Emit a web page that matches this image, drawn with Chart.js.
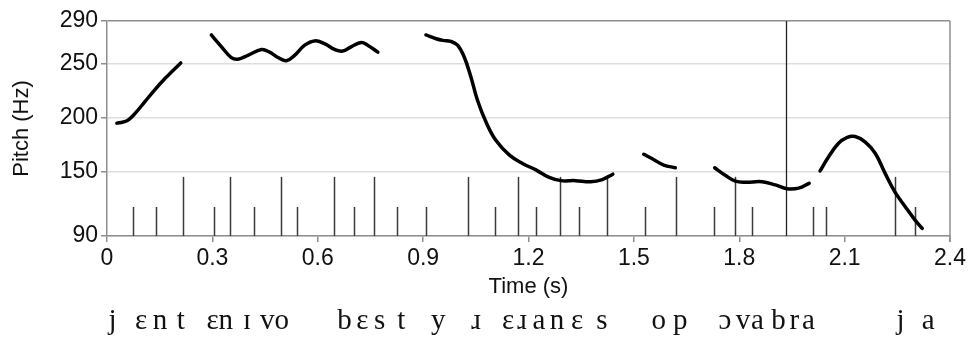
<!DOCTYPE html>
<html>
<head>
<meta charset="utf-8">
<title>Pitch contour</title>
<script src="https://cdn.jsdelivr.net/npm/chart.js@4.4.1/dist/chart.umd.min.js"></script>
<style>
  body { margin: 0; background: #fff; }
  #wrap { width: 969px; height: 338px; position: relative; }
</style>
</head>
<body>
<div id="wrap"><canvas id="chart"></canvas></div>
<script>
// axis ticks
const xTickValues = [0, 0.3, 0.6, 0.9, 1.2, 1.5, 1.8, 2.1, 2.4];
const xTickLabels = ["0", "0.3", "0.6", "0.9", "1.2", "1.5", "1.8", "2.1", "2.4"];
const yTickValues = [90, 150, 200, 250, 290];

// pitch track, one pair of arrays per voiced stretch (time in s, pitch in Hz)
const seg1Time = [0.028, 0.046, 0.061, 0.080, 0.108, 0.136, 0.165, 0.188, 0.210];
const seg1Hz = [195, 196, 198, 204, 215, 226, 236.5, 244, 251];

const seg2Time = [0.297, 0.326, 0.354, 0.373, 0.401, 0.440, 0.463, 0.487, 0.511, 0.534,
  0.563, 0.591, 0.619, 0.648, 0.671, 0.695, 0.724, 0.742, 0.771];
const seg2Hz = [277, 266, 256, 254.5, 258, 263.5, 261, 256, 253, 258,
  267.5, 271.5, 269, 263.5, 262, 266, 270, 267.5, 261];

const seg3Time = [0.908, 0.937, 0.956, 0.979, 0.998, 1.017, 1.036, 1.055, 1.079, 1.107,
  1.145, 1.183, 1.221, 1.259, 1.292, 1.334, 1.377, 1.410, 1.440];
const seg3Hz = [277, 273.5, 272, 271, 267.5, 256.5, 238, 216, 196, 179,
  165.5, 157.5, 151.5, 144.5, 141.5, 141.5, 140.5, 142.5, 147.5];

const seg4Time = [1.528, 1.557, 1.585, 1.618];
const seg4Hz = [166, 161, 156, 153.5];

const seg5Time = [1.730, 1.760, 1.789, 1.817, 1.865, 1.903, 1.936, 1.969, 1.999];
const seg5Hz = [153.5, 146.5, 141, 140, 140.5, 137.5, 134, 134.5, 139];

const seg6Time = [2.030, 2.054, 2.082, 2.106, 2.130, 2.158, 2.187, 2.215, 2.243, 2.272, 2.300, 2.321];
const seg6Hz = [150.5, 163.5, 176, 181.5, 182.5, 177.5, 167, 148.5, 131, 117.5, 105, 97];

// segment boundaries (s) and how high their marks reach (Hz)
const shortMarks = [0.075, 0.139, 0.305, 0.418, 0.541, 0.702, 0.826, 0.908, 1.106, 1.221,
  1.344, 1.533, 1.728, 1.836, 2.009, 2.046, 2.300];
const tallMarks = [0.217, 0.350, 0.494, 0.647, 0.759, 1.028, 1.170, 1.291, 1.423, 1.619,
  1.787, 2.242];
const shortMarkHz = 117;
const tallMarkHz = 145;
const cursorTime = 1.933;

// transcription under the axis
const ipaText = ["j", "ɛ", "n", "t", "ɛn", "ɪ", "vo", "b", "ɛ", "s", "t", "y", "ɹ", "ɛ", "ɹ",
  "a", "n", "ɛ", "s", "o", "p", "ɔ", "v", "a", "b", "r", "a", "j", "a"];
const ipaTime = [0.016, 0.097, 0.151, 0.210, 0.321, 0.399, 0.477, 0.676, 0.727, 0.776,
  0.838, 0.943, 1.051, 1.142, 1.182, 1.230, 1.281, 1.338, 1.409, 1.571, 1.632, 1.759,
  1.811, 1.852, 1.912, 1.957, 1.997, 2.259, 2.338];

const segments = [
  [seg1Time, seg1Hz], [seg2Time, seg2Hz], [seg3Time, seg3Hz],
  [seg4Time, seg4Hz], [seg5Time, seg5Hz], [seg6Time, seg6Hz],
];

const AXIS_GRAY = "#8e8e8e";
const sans = "'Liberation Sans', Arial, Helvetica, sans-serif";

const marksPlugin = {
  id: "marks",
  beforeDatasetsDraw(chart) {
    const { ctx, chartArea, scales } = chart;
    const x = scales.x, y = scales.y;
    const base = y.getPixelForValue(90);
    ctx.save();
    ctx.strokeStyle = "#3a3a3a";
    ctx.lineWidth = 1.5;
    const drawMark = (t, hz) => {
      const px = Math.round(x.getPixelForValue(t)) + 0.5;
      ctx.beginPath();
      ctx.moveTo(px, base);
      ctx.lineTo(px, y.getPixelForValue(hz));
      ctx.stroke();
    };
    shortMarks.forEach(t => drawMark(t, shortMarkHz));
    tallMarks.forEach(t => drawMark(t, tallMarkHz));
    // cursor
    ctx.strokeStyle = "#222";
    ctx.lineWidth = 1.3;
    drawMark(cursorTime, 290);
    // right frame edge
    ctx.strokeStyle = AXIS_GRAY;
    ctx.lineWidth = 1.5;
    ctx.beginPath();
    ctx.moveTo(chartArea.right, chartArea.top);
    ctx.lineTo(chartArea.right, chartArea.bottom + 6);
    ctx.stroke();
    ctx.restore();
  },
  afterDraw(chart) {
    const { ctx, scales } = chart;
    ctx.save();
    ctx.fillStyle = "#111";
    ctx.font = "29px 'Liberation Serif', 'DejaVu Serif', 'Times New Roman', serif";
    ctx.textAlign = "center";
    ctx.textBaseline = "alphabetic";
    ipaText.forEach((s, i) => {
      ctx.fillText(s, scales.x.getPixelForValue(ipaTime[i]), 329);
    });
    ctx.restore();
  },
};

new Chart(document.getElementById("chart"), {
  type: "line",
  data: {
    datasets: segments.map(([ts, hz]) => ({
      data: ts.map((t, i) => ({ x: t, y: hz[i] })),
      borderColor: "#000",
      borderWidth: 3.5,
      borderCapStyle: "round",
      borderJoinStyle: "round",
      tension: 0.4,
      pointRadius: 0,
      fill: false,
    })),
  },
  options: {
    responsive: true,
    maintainAspectRatio: false,
    animation: false,
    layout: { padding: { top: 21, right: 17, left: 0, bottom: 0 } },
    plugins: { legend: { display: false }, tooltip: { enabled: false } },
    scales: {
      x: {
        type: "linear",
        min: 0,
        max: 2.4,
        afterBuildTicks: s => { s.ticks = xTickValues.map(v => ({ value: v })); },
        afterFit: s => { s.height = 102; },
        ticks: {
          callback: (v, i) => xTickLabels[i],
          autoSkip: false,
          maxRotation: 0,
          padding: 3,
          color: "#111",
          font: { family: sans, size: 23 },
        },
        grid: { drawOnChartArea: false, tickLength: 6, tickColor: AXIS_GRAY, lineWidth: 1.5 },
        border: { color: AXIS_GRAY, width: 1.5 },
        title: {
          display: true,
          text: "Time (s)",
          color: "#111",
          font: { family: sans, size: 22 },
          padding: { top: 0, bottom: 38 },
        },
      },
      y: {
        type: "linear",
        min: 90,
        max: 290,
        afterBuildTicks: s => { s.ticks = yTickValues.map(v => ({ value: v })); },
        afterFit: s => { s.width = 107; },
        ticks: {
          padding: 3,
          color: "#111",
          font: { family: sans, size: 23 },
        },
        grid: {
          color: c => (c.tick && c.tick.value === 290 ? AXIS_GRAY : "#dedede"),
          lineWidth: 1.5,
          tickLength: 6,
          tickColor: AXIS_GRAY,
        },
        border: { color: AXIS_GRAY, width: 1.5 },
        title: {
          display: true,
          text: "Pitch (Hz)",
          color: "#111",
          font: { family: sans, size: 22 },
          padding: { top: 9, bottom: 0 },
        },
      },
    },
  },
  plugins: [marksPlugin],
});
</script>
</body>
</html>
